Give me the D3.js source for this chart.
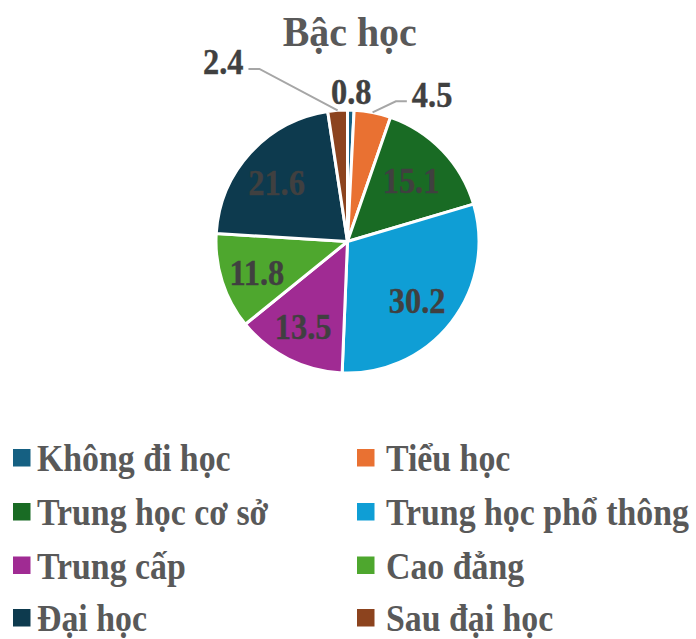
<!DOCTYPE html>
<html><head><meta charset="utf-8">
<script src="https://cdn.jsdelivr.net/npm/d3@7/dist/d3.min.js"></script>
<style>body{margin:0;background:#fff}svg{display:block}</style>
</head><body>
<svg id="chart" width="696" height="639"></svg>
<script>
// ---- data ----
const title = "Bậc học";
const categories = ["Không đi học","Tiểu học","Trung học cơ sở","Trung học phổ thông","Trung cấp","Cao đẳng","Đại học","Sau đại học"];
const values = [0.8, 4.5, 15.1, 30.2, 13.5, 11.8, 21.6, 2.4];
const valueLabels = ["0.8","4.5","15.1","30.2","13.5","11.8","21.6","2.4"];
const colors = ["#156082","#E97132","#196B24","#0F9ED5","#A02B93","#4EA72E","#0D3A4E","#8C431E"];

// ---- layout ----
const W = 696, H = 639;
const cx = 347.5, cy = 241.5, R = 131.5;
const font = "'Liberation Serif','Times New Roman',serif";
// manual nudges for crowded outside labels (px)
const outsideNudge = {1: [56, 0], 7: [-113, -30]};

const svg = d3.select("#chart");

svg.append("text")
  .attr("transform", "translate(349.7,46) scale(0.95,1)")
  .attr("text-anchor", "middle")
  .attr("font-family", font).attr("font-weight", "bold")
  .attr("font-size", 42).attr("fill", "#595959")
  .text(title);

const pie = d3.pie().sort(null).value(d => d.v);
const data = pie(values.map((v, i) => ({v, i})));
const arc = d3.arc().innerRadius(0).outerRadius(R);

const g = svg.append("g").attr("transform", `translate(${cx},${cy})`);
g.selectAll("path").data(data).join("path")
  .attr("d", arc)
  .attr("fill", d => colors[d.data.i])
  .attr("stroke", "#fff").attr("stroke-width", 3).attr("stroke-linejoin", "round");

const inArc = d3.arc().innerRadius(R * 0.70).outerRadius(R * 0.70);
const outArc = d3.arc().innerRadius(R + 18.5).outerRadius(R + 18.5);
const edgeArc = d3.arc().innerRadius(R).outerRadius(R);
const labSqueeze = 0.9;

data.forEach(d => {
  const i = d.data.i;
  const inside = d.data.v >= 5;
  let [x, y] = inside ? inArc.centroid(d) : outArc.centroid(d);
  if (inside) { x -= 3; y += 3; }
  const nudge = outsideNudge[i];
  if (!inside && nudge) { x += nudge[0]; y += nudge[1]; }
  const t = g.append("g").attr("transform", `translate(${x},${y}) scale(${labSqueeze},1)`);
  const txt = t.append("text")
    .attr("text-anchor", "middle").attr("dy", "0.34em")
    .attr("font-family", font).attr("font-weight", "bold")
    .attr("font-size", 36).attr("fill", "#404040")
    .attr("stroke", "#404040").attr("stroke-width", 0.4)
    .text(valueLabels[i]);
  if (!inside && nudge) {
    const w = txt.node().getComputedTextLength() * labSqueeze;
    const [sx, sy] = edgeArc.centroid(d);
    const right = x > sx;
    const edge = right ? x - w / 2 : x + w / 2;
    const sgn = right ? -1 : 1;
    const lineY = y + 12 - 5;
    const pts = [[sx, sy], [edge + sgn * 16, lineY], [edge + sgn * 5, lineY]];
    g.insert("path", "g")
      .attr("d", d3.line()(pts))
      .attr("fill", "none").attr("stroke", "#A6A6A6").attr("stroke-width", 2);
  }
});

// ---- legend ----
const markerX = [13, 357], textX = [37, 386];
const rowY = [471, 525, 578.5, 631];
const legSqueeze = 0.89;
const lg = svg.append("g");
categories.forEach((c, i) => {
  const col = i % 2, row = Math.floor(i / 2);
  lg.append("rect")
    .attr("x", markerX[col]).attr("y", rowY[row] - 22)
    .attr("width", 17.5).attr("height", 17.5)
    .attr("fill", colors[i]);
  lg.append("text")
    .attr("transform", `translate(${textX[col]},${rowY[row]}) scale(${legSqueeze},1)`)
    .attr("font-family", font).attr("font-weight", "bold")
    .attr("font-size", 38).attr("fill", "#595959")
    .text(c);
});
</script>
</body></html>
